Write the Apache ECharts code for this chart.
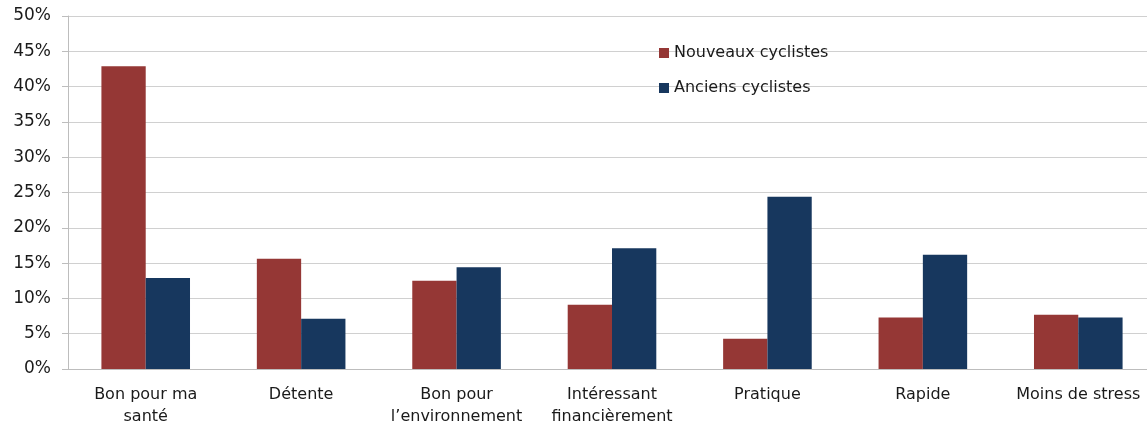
<!DOCTYPE html>
<html>
<head>
<meta charset="utf-8">
<script src="https://cdn.jsdelivr.net/npm/echarts@6/dist/echarts.min.js"></script>
<style>
  html, body { margin: 0; padding: 0; background: #fff; }
  #chart { width: 1147px; height: 428px; }
</style>
</head>
<body>
<div id="chart"></div>
<script>
// catégories et valeurs (en %)
const categories = ['Bon pour ma\nsanté', 'Détente', 'Bon pour\nl\u2019environnement', 'Intéressant\nfinancièrement', 'Pratique', 'Rapide', 'Moins de stress'];
const nouveaux = [42.9, 15.6, 12.5, 9.1, 4.3, 7.3, 7.7];
const anciens = [12.9, 7.1, 14.4, 17.1, 24.4, 16.2, 7.3];

const chart = echarts.init(document.getElementById('chart'));
const font = 'DejaVu Sans';

const option = {
    animation: false,
    textStyle: { fontFamily: font },
    legend: {
        orient: 'vertical',
        left: 654,
        top: 40,
        itemWidth: 10,
        itemHeight: 10,
        itemGap: 19,
        icon: 'rect',
        textStyle: { fontSize: 16, color: '#1a1a1a', fontFamily: font },
        data: ['Nouveaux cyclistes', 'Anciens cyclistes']
    },
    grid: {
        left: 68,
        top: 16,
        width: 1088,
        height: 353,
        outerBoundsMode: 'none'
    },
    xAxis: {
        type: 'category',
        data: categories,
        axisLine: { lineStyle: { color: '#bdbdbd' } },
        axisTick: { length: 5, lineStyle: { color: '#bdbdbd' } },
        axisLabel: { color: '#1a1a1a', fontSize: 16, margin: 15, lineHeight: 22, interval: 0, fontFamily: font }
    },
    yAxis: {
        type: 'value',
        min: 0,
        max: 50,
        interval: 5,
        axisLine: { show: true, lineStyle: { color: '#bdbdbd' } },
        axisTick: { show: true, length: 6, lineStyle: { color: '#bdbdbd' } },
        splitLine: { lineStyle: { color: '#d0d0d0' } },
        axisLabel: { color: '#1a1a1a', fontSize: 17, margin: 17, formatter: '{value}%', fontFamily: font }
    },
    series: [
        {
            name: 'Nouveaux cyclistes',
            type: 'bar',
            data: nouveaux,
            barGap: '0%',
            barCategoryGap: '43%',
            itemStyle: { color: '#953735' }
        },
        {
            name: 'Anciens cyclistes',
            type: 'bar',
            data: anciens,
            itemStyle: { color: '#17375e' }
        }
    ]
};

chart.setOption(option);
</script>
</body>
</html>
